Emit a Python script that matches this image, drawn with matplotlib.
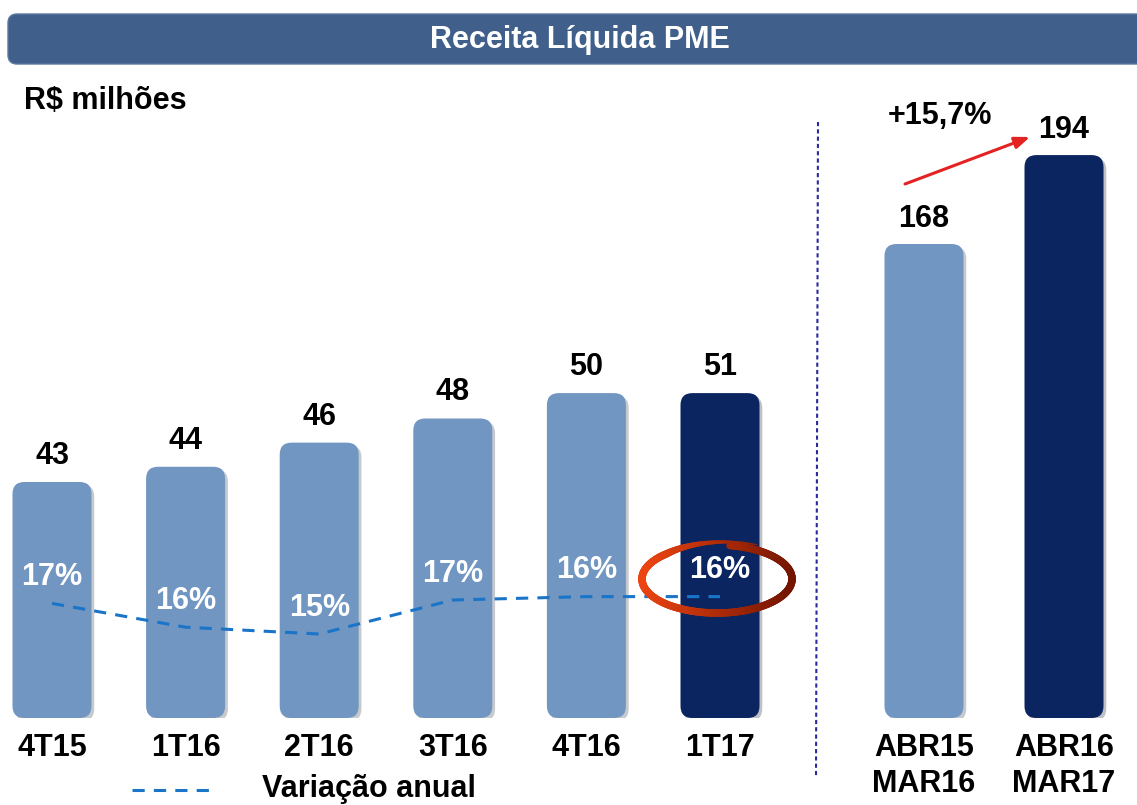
import matplotlib
matplotlib.use("Agg")
import matplotlib.pyplot as plt
import numpy as np
from matplotlib.patches import FancyBboxPatch
from matplotlib.collections import LineCollection
import matplotlib.patheffects as pe

plt.rcParams["font.family"] = ["Liberation Sans", "DejaVu Sans"]
plt.rcParams["font.weight"] = "bold"

# quarterly data
trimestres = ["4T15", "1T16", "2T16", "3T16", "4T16", "1T17"]
receita = [43.0, 44.2, 46.1, 48.0, 50.0, 50.0]     # bar heights as drawn
receita_lbl = ["43", "44", "46", "48", "50", "51"]
variacao = [16.8, 15.4, 15.0, 17.0, 17.2, 17.2]    # dashed line level (%)
variacao_lbl = ["17%", "16%", "15%", "17%", "16%", "16%"]

# 12-month data
periodos = ["ABR15\nMAR16", "ABR16\nMAR17"]
receita_12m = [168, 194]
receita_12m_lbl = ["168", "194"]
crescimento = "+15,7%"

LIGHT = "#7096c1"
DARK = "#0b2560"
LINE = "#1a75c9"
FS = 22

W, H = 1137, 805
fig = plt.figure(figsize=(W / 100, H / 100), dpi=100)

base_px = 718
top_px = 100


def rounded_bars(ax, bars, color, r_px, px_x, px_y):
    # swap plain bars for rounded boxes with a soft shadow
    for b, c in zip(bars, color):
        x, y = b.get_x(), b.get_y()
        w, h = b.get_width(), b.get_height()
        b.remove()
        r = r_px / px_x
        p = FancyBboxPatch((x, y), w, h,
                           boxstyle="round,pad=0,rounding_size=%f" % r,
                           mutation_aspect=px_x / px_y,
                           fc=c, ec="none", zorder=2)
        p.set_path_effects([pe.SimplePatchShadow(offset=(2, -2), alpha=0.25),
                            pe.Normal()])
        ax.add_patch(p)


# ---- left panel (quarters)
axl = fig.add_axes([0, (H - base_px) / H, 790 / W, (base_px - top_px) / H])
px_per_unit_l = 12.7
yl0 = 43 - (base_px - 482) / px_per_unit_l
axl.set_ylim(yl0, yl0 + (base_px - top_px) / px_per_unit_l)
px_cat_l = 133.6
axl.set_xlim(-52 / px_cat_l, 5 + (790 - 720) / px_cat_l)
xs = np.arange(len(trimestres))
bl = axl.bar(xs, np.array(receita) - yl0, bottom=yl0, width=79 / px_cat_l)
cols_l = [LIGHT] * 5 + [DARK]
rounded_bars(axl, bl, cols_l, 12, px_cat_l, px_per_unit_l)
for x, v, s in zip(xs, receita, receita_lbl):
    axl.annotate(s, (x, v), xytext=(0, 8), textcoords="offset points",
                 ha="center", va="bottom", fontsize=FS, fontweight="bold")
axl.set_xticks(xs)
axl.set_xticklabels(trimestres, fontsize=FS, fontweight="bold")
axl.tick_params(length=0, pad=11, left=False, labelleft=False)
for s in axl.spines.values():
    s.set_visible(False)
axl.patch.set_alpha(0)

# variation line on its own scale
axv = axl.twinx()
px_per_pct = 17.0
yv0 = 15.0 - (base_px - 634) / px_per_pct
axv.set_ylim(yv0, yv0 + (base_px - top_px) / px_per_pct)
axv.plot(xs, variacao, color=LINE, lw=2.2, ls=(0, (4, 3)), zorder=3)
for x, v, s in zip(xs, variacao, variacao_lbl):
    axv.annotate(s, (x, v), xytext=(0, 19), textcoords="offset points",
                 ha="center", va="center", fontsize=FS, fontweight="bold",
                 color="white", zorder=4)
axv.set_yticks([])
for s in axv.spines.values():
    s.set_visible(False)

# ---- right panel (12 months)
axr = fig.add_axes([800 / W, (H - base_px) / H, 337 / W, (base_px - top_px) / H])
px_per_unit_r = 3.42
yr0 = 168 - (base_px - 244) / px_per_unit_r
axr.set_ylim(yr0, yr0 + (base_px - top_px) / px_per_unit_r)
px_cat_r = 140
axr.set_xlim(-124 / px_cat_r, 1 + (1137 - 1064) / px_cat_r)
xr = np.arange(len(periodos))
br = axr.bar(xr, np.array(receita_12m) - yr0, bottom=yr0, width=79 / px_cat_r)
rounded_bars(axr, br, [LIGHT, DARK], 12, px_cat_r, px_per_unit_r)
for x, v, s in zip(xr, receita_12m, receita_12m_lbl):
    axr.annotate(s, (x, v), xytext=(0, 7), textcoords="offset points",
                 ha="center", va="bottom", fontsize=FS, fontweight="bold")
axr.set_xticks(xr)
axr.set_xticklabels(periodos, fontsize=FS, fontweight="bold", linespacing=1.25)
axr.tick_params(length=0, pad=11, left=False, labelleft=False)
for s in axr.spines.values():
    s.set_visible(False)
axr.patch.set_alpha(0)

# ---- overlay in pixel coordinates for decorations
ov = fig.add_axes([0, 0, 1, 1])
ov.set_xlim(0, W)
ov.set_ylim(H, 0)
ov.axis("off")
ov.patch.set_alpha(0)

ov.add_patch(FancyBboxPatch((8, 14), 1160, 50,
                            boxstyle="round,pad=0,rounding_size=9",
                            fc="#40608b", ec="#5a77a0", lw=1))
ov.text(580, 40, "Receita Líquida PME", ha="center", va="center",
        color="white", fontsize=FS, fontweight="bold")
ov.text(24, 101, "R$ milhões", ha="left", va="center", fontsize=FS,
        fontweight="bold")

# divider
ov.plot([818, 816], [122, 778], color="#2a2a9c", lw=1.5, ls=(0, (2, 1.5)))

# growth arrow
ov.annotate("", xy=(1030, 137), xytext=(905, 184),
            arrowprops=dict(arrowstyle="-|>,head_length=0.9,head_width=0.35",
                            color="#e52222", lw=2.2, shrinkA=0, shrinkB=0))
ov.text(940, 116, crescimento, ha="center", va="center", fontsize=FS,
        fontweight="bold")

# hand-drawn red ellipse around 1T17 variation
cx, cy, a, b = 717, 579, 75, 34
t = np.radians(np.linspace(62, 440, 300))
k = np.clip((t - t[0]) / np.radians(70), 0, 1)
grow = 1 + 0.14 * (1 - k)
ex = cx + a * grow * np.cos(t)
ey = cy - b * grow * np.sin(t)
pts = np.column_stack([ex, ey]).reshape(-1, 1, 2)
segs = np.concatenate([pts[:-1], pts[1:]], axis=1)
mix = (np.cos(t[:-1]) + 1) / 2
c0 = np.array([0.93, 0.27, 0.07])
c1 = np.array([0.45, 0.08, 0.0])
cols = [tuple(c0 * (1 - m) + c1 * m) for m in mix]
lws = 0.8 + 4.6 * k[:-1]
ov.add_collection(LineCollection(segs, colors=cols, linewidths=lws,
                                 capstyle="round"))

# legend
ov.plot([132, 212], [790, 790], color=LINE, lw=2.2, ls=(0, (4, 3)))
ov.text(262, 789, "Variação anual", ha="left", va="center", fontsize=FS,
        fontweight="bold")

fig.savefig("out.png", dpi=100)
